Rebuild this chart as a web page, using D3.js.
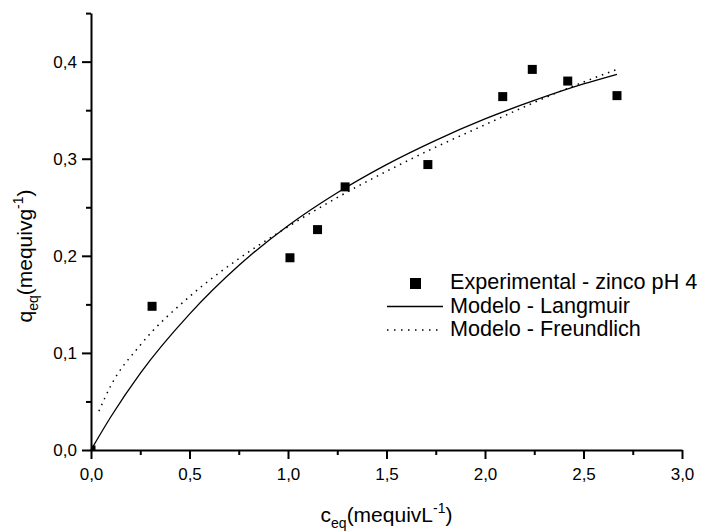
<!DOCTYPE html>
<html>
<head>
<meta charset="utf-8">
<script src="https://cdn.jsdelivr.net/npm/d3@7"></script>
<style>
  body { margin: 0; background: #fff; }
  svg { display: block; font-family: "Liberation Sans", Arial, sans-serif; }
</style>
</head>
<body>
<script>
// experimental points (c_eq, q_eq)
var expX = [0, 0.31, 1.01, 1.15, 1.29, 1.71, 2.09, 2.24, 2.42, 2.67];
var expY = [0, 0.148, 0.198, 0.227, 0.271, 0.294, 0.364, 0.392, 0.380, 0.365];

// model curves
var langX = [0, 0.1, 0.25, 0.5, 0.75, 1, 1.25, 1.5, 1.75, 2, 2.25, 2.5, 2.67];
var langY = [0, 0.034, 0.079, 0.140, 0.190, 0.231, 0.265, 0.294, 0.319, 0.341, 0.360, 0.377, 0.387];
var freX = [0.04, 0.1, 0.25, 0.5, 0.75, 1, 1.25, 1.5, 1.75, 2, 2.25, 2.5, 2.67];
var freY = [0.040, 0.066, 0.108, 0.158, 0.197, 0.230, 0.260, 0.287, 0.312, 0.335, 0.358, 0.379, 0.392];

var xMajor = [0, 0.5, 1, 1.5, 2, 2.5, 3];
var xMinor = [0.25, 0.75, 1.25, 1.75, 2.25, 2.75];
var yMajor = [0, 0.1, 0.2, 0.3, 0.4];
var yMinor = [0.05, 0.15, 0.25, 0.35, 0.45];

var legendLabels = ['Experimental - zinco pH 4', 'Modelo - Langmuir', 'Modelo - Freundlich'];

var width = 701, height = 532;

var svg = d3.select('body').append('svg')
  .attr('width', width)
  .attr('height', height);

var x = d3.scaleLinear().domain([0, 3]).range([91, 682]);
var y = d3.scaleLinear().domain([0, 0.45]).range([450, 13.1]);

var fmt = function(d) { return d3.format('.1f')(d).replace('.', ','); };

svg.append('clipPath').attr('id', 'plot')
  .append('rect')
    .attr('x', x(0)).attr('y', y(0.45))
    .attr('width', x(3) - x(0)).attr('height', y(0) - y(0.45));

// axes
var xAxis = svg.append('g')
  .attr('transform', 'translate(0,' + y(0) + ')')
  .call(d3.axisBottom(x).tickValues(xMajor).tickFormat(fmt).tickSize(9).tickSizeOuter(0).tickPadding(9));
svg.append('g')
  .attr('transform', 'translate(0,' + y(0) + ')')
  .call(d3.axisBottom(x).tickValues(xMinor).tickFormat('').tickSize(5).tickSizeOuter(0))
  .select('.domain').remove();

var yAxis = svg.append('g')
  .attr('transform', 'translate(' + x(0) + ',0)')
  .call(d3.axisLeft(y).tickValues(yMajor).tickFormat(fmt).tickSize(9).tickSizeOuter(0).tickPadding(5));
svg.append('g')
  .attr('transform', 'translate(' + x(0) + ',0)')
  .call(d3.axisLeft(y).tickValues(yMinor).tickFormat('').tickSize(5).tickSizeOuter(0))
  .select('.domain').remove();

svg.selectAll('.domain').attr('stroke', '#000').attr('stroke-width', 2);
svg.selectAll('.tick line').attr('stroke', '#000').attr('stroke-width', 2);
svg.selectAll('.tick text').attr('font-size', 17).attr('fill', '#000')
  .attr('font-family', '"Liberation Sans", Arial, sans-serif');

// curves
var line = d3.line()
  .x(function(d) { return x(d[0]); })
  .y(function(d) { return y(d[1]); })
  .curve(d3.curveMonotoneX);

svg.append('path')
  .attr('d', line(d3.zip(freX, freY)))
  .attr('fill', 'none')
  .attr('stroke', '#000')
  .attr('stroke-width', 1.5)
  .attr('stroke-dasharray', '1.5,5');

svg.append('path')
  .attr('d', line(d3.zip(langX, langY)))
  .attr('fill', 'none')
  .attr('stroke', '#000')
  .attr('stroke-width', 1.3);

// experimental squares
var s = 9;
svg.append('g').attr('clip-path', 'url(#plot)')
  .selectAll('rect')
  .data(d3.zip(expX, expY))
  .enter()
  .append('rect')
    .attr('x', function(d) { return x(d[0]) - s / 2; })
    .attr('y', function(d) { return y(d[1]) - s / 2; })
    .attr('width', s)
    .attr('height', s)
    .attr('fill', '#000');

// legend
var lg = svg.append('g').attr('font-size', 21.6).attr('fill', '#000');
lg.append('rect').attr('x', 410).attr('y', 278).attr('width', 11).attr('height', 11).attr('fill', '#000');
lg.append('line').attr('x1', 387).attr('x2', 443).attr('y1', 306.5).attr('y2', 306.5)
  .attr('stroke', '#000').attr('stroke-width', 1.3);
lg.append('line').attr('x1', 387).attr('x2', 443).attr('y1', 330).attr('y2', 330)
  .attr('stroke', '#000').attr('stroke-width', 1.5).attr('stroke-dasharray', '1.5,5.5');
lg.selectAll('text')
  .data(legendLabels)
  .enter()
  .append('text')
    .attr('x', 450)
    .attr('y', function(d, i) { return 289 + i * 23.5; })
    .text(function(d) { return d; });

// axis titles
var xt = svg.append('text')
  .attr('x', (x(0) + x(3)) / 2)
  .attr('y', 521.5)
  .attr('text-anchor', 'middle')
  .attr('font-size', 21)
  .attr('fill', '#000');
xt.append('tspan').text('c');
xt.append('tspan').attr('font-size', 14).attr('dy', 6).text('eq');
xt.append('tspan').attr('dy', -6).text('(mequivL');
xt.append('tspan').attr('font-size', 14).attr('dy', -9).text('-1');
xt.append('tspan').attr('dy', 9).text(')');

var yt = svg.append('text')
  .attr('transform', 'translate(32,256) rotate(-90)')
  .attr('text-anchor', 'middle')
  .attr('font-size', 21)
  .attr('fill', '#000');
yt.append('tspan').text('q');
yt.append('tspan').attr('font-size', 14).attr('dy', 6).text('eq');
yt.append('tspan').attr('dy', -6).text('(mequivg');
yt.append('tspan').attr('font-size', 14).attr('dy', -9).text('-1');
yt.append('tspan').attr('dy', 9).text(')');
</script>
</body>
</html>
